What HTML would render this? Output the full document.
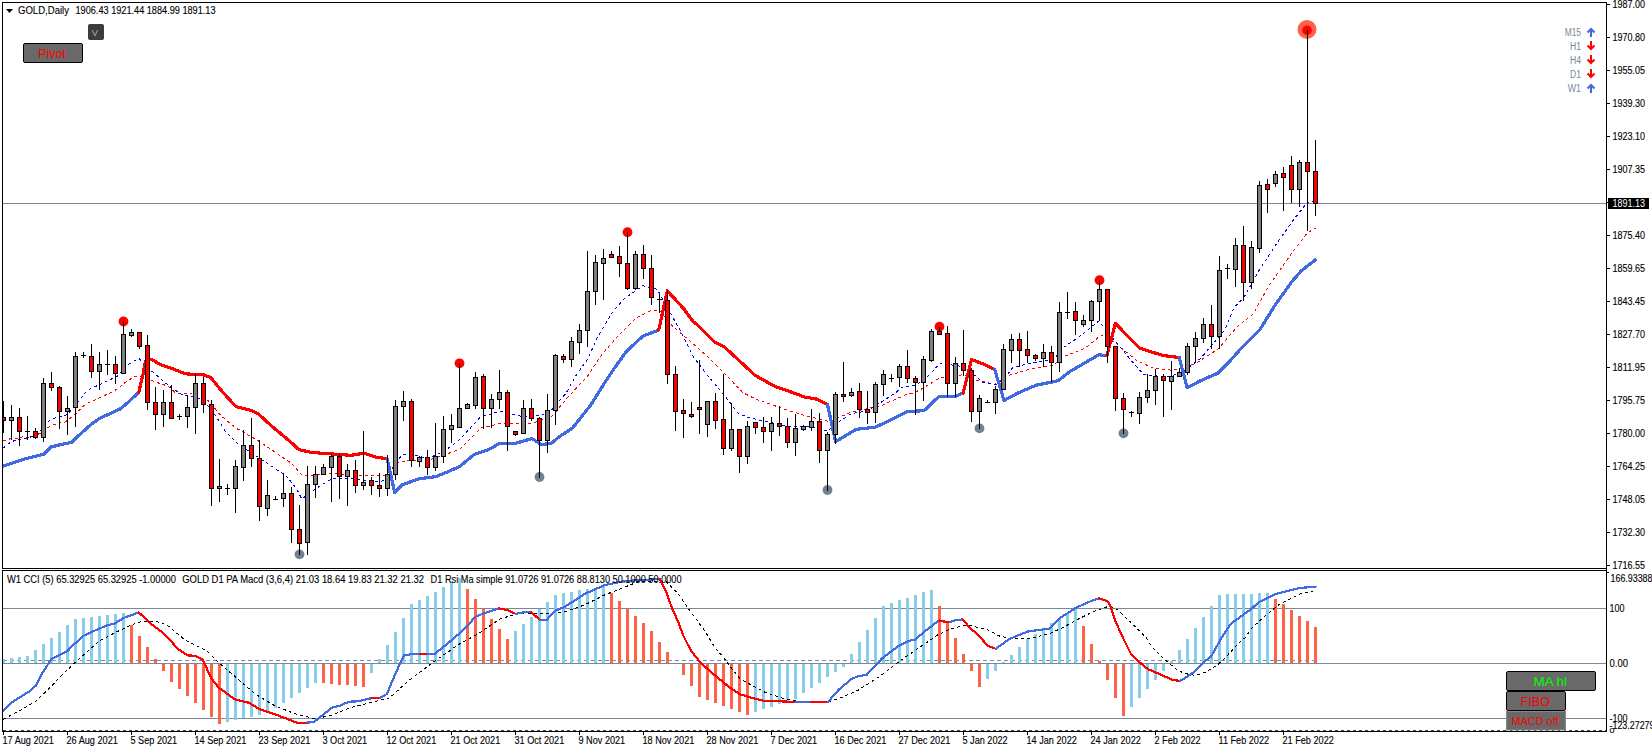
<!DOCTYPE html>
<html><head><meta charset="utf-8"><title>GOLD,Daily</title>
<style>html,body{margin:0;padding:0;background:#fff;width:1652px;height:752px;overflow:hidden}svg{display:block}</style>
</head><body>
<svg width="1652" height="752" viewBox="0 0 1652 752">
<rect x="0" y="0" width="1652" height="752" fill="#ffffff"/>
<rect x="3" y="203" width="1603" height="1" fill="#778899"/>
<rect x="3" y="608" width="1603" height="1" fill="#778899"/>
<rect x="3" y="663" width="1603" height="1" fill="#778899"/>
<rect x="3" y="718" width="1603" height="1" fill="#778899"/>
<line x1="3" y1="660.5" x2="1316" y2="660.5" stroke="#778899" stroke-width="1" stroke-dasharray="4,3"/>
<line x1="3" y1="730.5" x2="1606" y2="730.5" stroke="#2f4f4f" stroke-width="1" stroke-dasharray="3,3" shape-rendering="crispEdges"/>
<rect x="2" y="659" width="3" height="4" fill="#87ceeb"/>
<rect x="10" y="658" width="3" height="5" fill="#87ceeb"/>
<rect x="18" y="657" width="3" height="6" fill="#87ceeb"/>
<rect x="26" y="656" width="3" height="7" fill="#87ceeb"/>
<rect x="34" y="650" width="3" height="13" fill="#87ceeb"/>
<rect x="42" y="644" width="3" height="19" fill="#87ceeb"/>
<rect x="50" y="638" width="3" height="25" fill="#87ceeb"/>
<rect x="58" y="632" width="3" height="31" fill="#87ceeb"/>
<rect x="66" y="625" width="3" height="38" fill="#87ceeb"/>
<rect x="74" y="619" width="3" height="44" fill="#87ceeb"/>
<rect x="82" y="618" width="3" height="45" fill="#87ceeb"/>
<rect x="90" y="617" width="3" height="46" fill="#87ceeb"/>
<rect x="98" y="616" width="3" height="47" fill="#87ceeb"/>
<rect x="106" y="615" width="3" height="48" fill="#87ceeb"/>
<rect x="114" y="614" width="3" height="49" fill="#87ceeb"/>
<rect x="122" y="613" width="3" height="50" fill="#87ceeb"/>
<rect x="130" y="625" width="3" height="38" fill="#ff6347"/>
<rect x="138" y="636" width="3" height="27" fill="#ff6347"/>
<rect x="146" y="647" width="3" height="16" fill="#ff6347"/>
<rect x="154" y="659" width="3" height="4" fill="#ff6347"/>
<rect x="162" y="664" width="3" height="7" fill="#ff6347"/>
<rect x="170" y="664" width="3" height="18" fill="#ff6347"/>
<rect x="178" y="664" width="3" height="25" fill="#ff6347"/>
<rect x="186" y="664" width="3" height="32" fill="#ff6347"/>
<rect x="194" y="664" width="3" height="39" fill="#ff6347"/>
<rect x="202" y="664" width="3" height="46" fill="#ff6347"/>
<rect x="210" y="664" width="3" height="53" fill="#ff6347"/>
<rect x="218" y="664" width="3" height="60" fill="#ff6347"/>
<rect x="226" y="664" width="3" height="58" fill="#87ceeb"/>
<rect x="234" y="664" width="3" height="56" fill="#87ceeb"/>
<rect x="242" y="664" width="3" height="54" fill="#87ceeb"/>
<rect x="250" y="664" width="3" height="53" fill="#87ceeb"/>
<rect x="258" y="664" width="3" height="51" fill="#87ceeb"/>
<rect x="266" y="664" width="3" height="48" fill="#87ceeb"/>
<rect x="274" y="664" width="3" height="44" fill="#87ceeb"/>
<rect x="282" y="664" width="3" height="39" fill="#87ceeb"/>
<rect x="290" y="664" width="3" height="34" fill="#87ceeb"/>
<rect x="298" y="664" width="3" height="29" fill="#87ceeb"/>
<rect x="306" y="664" width="3" height="24" fill="#87ceeb"/>
<rect x="314" y="664" width="3" height="19" fill="#87ceeb"/>
<rect x="322" y="664" width="3" height="19" fill="#ff6347"/>
<rect x="330" y="664" width="3" height="20" fill="#ff6347"/>
<rect x="338" y="664" width="3" height="21" fill="#ff6347"/>
<rect x="346" y="664" width="3" height="21" fill="#ff6347"/>
<rect x="354" y="664" width="3" height="22" fill="#ff6347"/>
<rect x="362" y="664" width="3" height="23" fill="#ff6347"/>
<rect x="370" y="664" width="3" height="9" fill="#87ceeb"/>
<rect x="378" y="659" width="3" height="4" fill="#87ceeb"/>
<rect x="386" y="645" width="3" height="18" fill="#87ceeb"/>
<rect x="394" y="632" width="3" height="31" fill="#87ceeb"/>
<rect x="402" y="618" width="3" height="45" fill="#87ceeb"/>
<rect x="410" y="604" width="3" height="59" fill="#87ceeb"/>
<rect x="418" y="600" width="3" height="63" fill="#87ceeb"/>
<rect x="426" y="596" width="3" height="67" fill="#87ceeb"/>
<rect x="434" y="592" width="3" height="71" fill="#87ceeb"/>
<rect x="442" y="587" width="3" height="76" fill="#87ceeb"/>
<rect x="450" y="582" width="3" height="81" fill="#87ceeb"/>
<rect x="458" y="578" width="3" height="85" fill="#87ceeb"/>
<rect x="466" y="589" width="3" height="74" fill="#ff6347"/>
<rect x="474" y="599" width="3" height="64" fill="#ff6347"/>
<rect x="482" y="609" width="3" height="54" fill="#ff6347"/>
<rect x="490" y="619" width="3" height="44" fill="#ff6347"/>
<rect x="498" y="629" width="3" height="34" fill="#ff6347"/>
<rect x="506" y="639" width="3" height="24" fill="#ff6347"/>
<rect x="514" y="631" width="3" height="32" fill="#87ceeb"/>
<rect x="522" y="624" width="3" height="39" fill="#87ceeb"/>
<rect x="530" y="617" width="3" height="46" fill="#87ceeb"/>
<rect x="538" y="609" width="3" height="54" fill="#87ceeb"/>
<rect x="546" y="602" width="3" height="61" fill="#87ceeb"/>
<rect x="554" y="595" width="3" height="68" fill="#87ceeb"/>
<rect x="562" y="593" width="3" height="70" fill="#87ceeb"/>
<rect x="570" y="592" width="3" height="71" fill="#87ceeb"/>
<rect x="578" y="590" width="3" height="73" fill="#87ceeb"/>
<rect x="586" y="589" width="3" height="74" fill="#87ceeb"/>
<rect x="594" y="588" width="3" height="75" fill="#87ceeb"/>
<rect x="602" y="586" width="3" height="77" fill="#87ceeb"/>
<rect x="610" y="593" width="3" height="70" fill="#ff6347"/>
<rect x="618" y="601" width="3" height="62" fill="#ff6347"/>
<rect x="626" y="609" width="3" height="54" fill="#ff6347"/>
<rect x="634" y="616" width="3" height="47" fill="#ff6347"/>
<rect x="642" y="623" width="3" height="40" fill="#ff6347"/>
<rect x="650" y="631" width="3" height="32" fill="#ff6347"/>
<rect x="658" y="642" width="3" height="21" fill="#ff6347"/>
<rect x="666" y="652" width="3" height="11" fill="#ff6347"/>
<rect x="682" y="664" width="3" height="11" fill="#ff6347"/>
<rect x="690" y="664" width="3" height="22" fill="#ff6347"/>
<rect x="698" y="664" width="3" height="33" fill="#ff6347"/>
<rect x="706" y="664" width="3" height="36" fill="#ff6347"/>
<rect x="714" y="664" width="3" height="39" fill="#ff6347"/>
<rect x="722" y="664" width="3" height="42" fill="#ff6347"/>
<rect x="730" y="664" width="3" height="45" fill="#ff6347"/>
<rect x="738" y="664" width="3" height="48" fill="#ff6347"/>
<rect x="746" y="664" width="3" height="51" fill="#ff6347"/>
<rect x="754" y="664" width="3" height="48" fill="#87ceeb"/>
<rect x="762" y="664" width="3" height="45" fill="#87ceeb"/>
<rect x="770" y="664" width="3" height="43" fill="#87ceeb"/>
<rect x="778" y="664" width="3" height="40" fill="#87ceeb"/>
<rect x="786" y="664" width="3" height="37" fill="#87ceeb"/>
<rect x="794" y="664" width="3" height="35" fill="#87ceeb"/>
<rect x="802" y="664" width="3" height="29" fill="#87ceeb"/>
<rect x="810" y="664" width="3" height="24" fill="#87ceeb"/>
<rect x="818" y="664" width="3" height="19" fill="#87ceeb"/>
<rect x="826" y="664" width="3" height="13" fill="#87ceeb"/>
<rect x="834" y="664" width="3" height="8" fill="#87ceeb"/>
<rect x="842" y="664" width="3" height="3" fill="#87ceeb"/>
<rect x="850" y="654" width="3" height="9" fill="#87ceeb"/>
<rect x="858" y="642" width="3" height="21" fill="#87ceeb"/>
<rect x="866" y="630" width="3" height="33" fill="#87ceeb"/>
<rect x="874" y="618" width="3" height="45" fill="#87ceeb"/>
<rect x="882" y="606" width="3" height="57" fill="#87ceeb"/>
<rect x="890" y="603" width="3" height="60" fill="#87ceeb"/>
<rect x="898" y="600" width="3" height="63" fill="#87ceeb"/>
<rect x="906" y="598" width="3" height="65" fill="#87ceeb"/>
<rect x="914" y="595" width="3" height="68" fill="#87ceeb"/>
<rect x="922" y="592" width="3" height="71" fill="#87ceeb"/>
<rect x="930" y="590" width="3" height="73" fill="#87ceeb"/>
<rect x="938" y="606" width="3" height="57" fill="#ff6347"/>
<rect x="946" y="622" width="3" height="41" fill="#ff6347"/>
<rect x="954" y="638" width="3" height="25" fill="#ff6347"/>
<rect x="962" y="654" width="3" height="9" fill="#ff6347"/>
<rect x="970" y="664" width="3" height="7" fill="#ff6347"/>
<rect x="978" y="664" width="3" height="23" fill="#ff6347"/>
<rect x="986" y="664" width="3" height="15" fill="#87ceeb"/>
<rect x="994" y="664" width="3" height="7" fill="#87ceeb"/>
<rect x="1002" y="662" width="3" height="1" fill="#87ceeb"/>
<rect x="1010" y="655" width="3" height="8" fill="#87ceeb"/>
<rect x="1018" y="647" width="3" height="16" fill="#87ceeb"/>
<rect x="1026" y="639" width="3" height="24" fill="#87ceeb"/>
<rect x="1034" y="634" width="3" height="29" fill="#87ceeb"/>
<rect x="1042" y="630" width="3" height="33" fill="#87ceeb"/>
<rect x="1050" y="623" width="3" height="40" fill="#87ceeb"/>
<rect x="1058" y="618" width="3" height="45" fill="#87ceeb"/>
<rect x="1066" y="613" width="3" height="50" fill="#87ceeb"/>
<rect x="1074" y="609" width="3" height="54" fill="#87ceeb"/>
<rect x="1082" y="626" width="3" height="37" fill="#ff6347"/>
<rect x="1090" y="644" width="3" height="19" fill="#ff6347"/>
<rect x="1098" y="661" width="3" height="2" fill="#ff6347"/>
<rect x="1106" y="664" width="3" height="16" fill="#ff6347"/>
<rect x="1114" y="664" width="3" height="34" fill="#ff6347"/>
<rect x="1122" y="664" width="3" height="52" fill="#ff6347"/>
<rect x="1130" y="664" width="3" height="43" fill="#87ceeb"/>
<rect x="1138" y="664" width="3" height="34" fill="#87ceeb"/>
<rect x="1146" y="664" width="3" height="25" fill="#87ceeb"/>
<rect x="1154" y="664" width="3" height="16" fill="#87ceeb"/>
<rect x="1162" y="664" width="3" height="7" fill="#87ceeb"/>
<rect x="1170" y="661" width="3" height="2" fill="#87ceeb"/>
<rect x="1178" y="650" width="3" height="13" fill="#87ceeb"/>
<rect x="1186" y="639" width="3" height="24" fill="#87ceeb"/>
<rect x="1194" y="628" width="3" height="35" fill="#87ceeb"/>
<rect x="1202" y="617" width="3" height="46" fill="#87ceeb"/>
<rect x="1210" y="606" width="3" height="57" fill="#87ceeb"/>
<rect x="1218" y="595" width="3" height="68" fill="#87ceeb"/>
<rect x="1226" y="594" width="3" height="69" fill="#87ceeb"/>
<rect x="1234" y="594" width="3" height="69" fill="#87ceeb"/>
<rect x="1242" y="594" width="3" height="69" fill="#87ceeb"/>
<rect x="1250" y="594" width="3" height="69" fill="#87ceeb"/>
<rect x="1258" y="593" width="3" height="70" fill="#87ceeb"/>
<rect x="1266" y="593" width="3" height="70" fill="#87ceeb"/>
<rect x="1274" y="599" width="3" height="64" fill="#ff6347"/>
<rect x="1282" y="604" width="3" height="59" fill="#ff6347"/>
<rect x="1290" y="610" width="3" height="53" fill="#ff6347"/>
<rect x="1298" y="616" width="3" height="47" fill="#ff6347"/>
<rect x="1306" y="621" width="3" height="42" fill="#ff6347"/>
<rect x="1314" y="627" width="3" height="36" fill="#ff6347"/>
<polyline points="3.3,719.3 19.8,710.5 35.1,701.7 39.6,697.5 46.0,691.5 52.3,685.5 57.5,679.5 63.1,673.9 69.1,668.3 75.5,662.0 81.0,657.2 87.5,651.6 98.8,641.3 115.2,632.6 131.7,624.9 142.7,620.9 158.0,621.9 167.0,624.9 184.9,639.9 206.9,650.8 218.8,662.8 238.8,679.8 254.8,693.7 274.7,705.7 294.7,713.7 315.0,718.7 330.0,715.7 349.9,707.7 369.9,702.7 389.8,697.7 409.7,679.8 433.7,661.8 449.7,650.8 458.7,644.4 477.6,634.2 490.2,625.5 499.6,619.2 516.9,613.7 524.9,612.9 544.8,613.9 564.8,611.9 584.7,604.9 604.7,594.9 625.0,587.0 640.0,581.0 666.0,581.6 678.8,594.4 688.3,608.7 697.9,621.5 705.9,632.7 715.5,648.7 721.5,655.0 731.1,667.5 739.5,678.3 747.9,683.1 765.8,692.7 783.8,698.6 795.7,701.0 827.9,702.0 838.8,698.6 849.6,693.9 858.0,690.3 880.7,675.7 898.7,661.8 914.7,650.8 937.7,634.9 950.0,629.0 961.1,626.1 969.9,625.4 987.4,629.7 1000.0,636.3 1011.7,638.5 1029.2,638.5 1048.2,634.1 1062.9,627.6 1076.0,620.2 1093.6,611.5 1108.2,606.4 1117.0,609.3 1131.6,623.2 1146.2,637.8 1151.2,646.4 1158.8,653.6 1164.4,659.2 1170.7,664.7 1176.7,669.5 1182.7,672.6 1189.1,674.5 1195.1,675.3 1200.3,674.3 1205.9,671.9 1212.3,668.3 1218.6,664.0 1224.2,658.8 1230.6,652.0 1236.2,646.0 1241.0,640.8 1245.0,637.8 1252.0,627.9 1264.0,616.9 1279.9,603.9 1299.9,593.9 1315.8,590.4" fill="none" stroke="#000" stroke-width="1" stroke-dasharray="3,3" shape-rendering="crispEdges"/>
<polyline points="3.3,710.5 11.0,702.8 19.8,697.3 30.0,691.0 35.6,685.9 38.0,681.5 42.0,673.5 45.2,668.7 49.2,662.3 51.5,658.8 56.3,656.8 64.3,652.8 67.5,651.2 72.3,645.6 78.7,640.4 83.4,635.8 98.8,628.8 107.5,625.3 115.2,623.3 122.9,618.3 138.7,612.4" fill="none" stroke="#4169e1" stroke-width="2.2" stroke-linejoin="round" stroke-linecap="round" shape-rendering="crispEdges"/>
<polyline points="138.7,612.4 153.6,626.0 163.0,632.9 179.0,649.8 187.9,655.4 194.9,655.8 202.9,659.8 210.9,677.8 218.8,687.7 234.8,699.3 248.8,702.7 260.7,709.7 274.7,714.1 296.6,722.6 307.6,722.6" fill="none" stroke="#ff0000" stroke-width="2.2" stroke-linejoin="round" stroke-linecap="round" shape-rendering="crispEdges"/>
<polyline points="307.6,722.6 314.0,722.0 322.0,715.7 332.0,707.7 340.0,705.7 348.9,701.7 357.9,701.3 371.8,698.1" fill="none" stroke="#4169e1" stroke-width="2.2" stroke-linejoin="round" stroke-linecap="round" shape-rendering="crispEdges"/>
<polyline points="371.8,698.1 379.8,697.7" fill="none" stroke="#ff0000" stroke-width="2.2" stroke-linejoin="round" stroke-linecap="round" shape-rendering="crispEdges"/>
<polyline points="379.8,697.7 386.8,694.1 395.8,672.8 403.8,655.4 411.7,654.2 419.7,653.8" fill="none" stroke="#4169e1" stroke-width="2.2" stroke-linejoin="round" stroke-linecap="round" shape-rendering="crispEdges"/>
<polyline points="419.7,653.8 427.7,653.8" fill="none" stroke="#ff0000" stroke-width="2.2" stroke-linejoin="round" stroke-linecap="round" shape-rendering="crispEdges"/>
<polyline points="427.7,653.8 434.7,653.8 449.7,641.8 461.6,631.5 470.0,622.9 475.0,616.9 485.0,612.9 498.9,608.5" fill="none" stroke="#4169e1" stroke-width="2.2" stroke-linejoin="round" stroke-linecap="round" shape-rendering="crispEdges"/>
<polyline points="498.9,608.5 506.9,609.9 515.9,613.9" fill="none" stroke="#ff0000" stroke-width="2.2" stroke-linejoin="round" stroke-linecap="round" shape-rendering="crispEdges"/>
<polyline points="515.9,613.9 524.9,611.9 530.8,611.9" fill="none" stroke="#4169e1" stroke-width="2.2" stroke-linejoin="round" stroke-linecap="round" shape-rendering="crispEdges"/>
<polyline points="530.8,611.9 539.8,619.9" fill="none" stroke="#ff0000" stroke-width="2.2" stroke-linejoin="round" stroke-linecap="round" shape-rendering="crispEdges"/>
<polyline points="539.8,619.9 546.8,619.9 554.8,610.9 564.8,606.9 584.7,593.9 604.7,585.0 625.0,581.0 659.9,579.0" fill="none" stroke="#4169e1" stroke-width="2.2" stroke-linejoin="round" stroke-linecap="round" shape-rendering="crispEdges"/>
<polyline points="659.9,579.0 666.0,591.2 671.6,607.1 678.0,621.5 683.5,636.0 690.7,650.3 699.5,661.5 710.7,671.8 720.3,679.8 730.0,687.8 739.7,694.1 749.7,697.3 763.6,700.7 780.0,701.3 796.0,702.0" fill="none" stroke="#ff0000" stroke-width="2.2" stroke-linejoin="round" stroke-linecap="round" shape-rendering="crispEdges"/>
<polyline points="796.0,702.0 811.0,702.0" fill="none" stroke="#4169e1" stroke-width="2.2" stroke-linejoin="round" stroke-linecap="round" shape-rendering="crispEdges"/>
<polyline points="811.0,702.0 827.9,702.0" fill="none" stroke="#ff0000" stroke-width="2.2" stroke-linejoin="round" stroke-linecap="round" shape-rendering="crispEdges"/>
<polyline points="827.9,702.0 838.8,689.7 851.8,678.7 858.8,676.1 866.8,674.7 882.7,657.8 898.7,645.8 908.7,640.8 914.7,639.8 926.6,629.9 935.0,623.5 939.0,620.5" fill="none" stroke="#4169e1" stroke-width="2.2" stroke-linejoin="round" stroke-linecap="round" shape-rendering="crispEdges"/>
<polyline points="939.0,620.5 946.0,621.9 950.0,622.0" fill="none" stroke="#ff0000" stroke-width="2.2" stroke-linejoin="round" stroke-linecap="round" shape-rendering="crispEdges"/>
<polyline points="950.0,622.0 955.9,619.9 962.9,619.5" fill="none" stroke="#4169e1" stroke-width="2.2" stroke-linejoin="round" stroke-linecap="round" shape-rendering="crispEdges"/>
<polyline points="962.9,619.5 969.9,627.9 977.9,634.8 987.9,645.8 995.8,648.8" fill="none" stroke="#ff0000" stroke-width="2.2" stroke-linejoin="round" stroke-linecap="round" shape-rendering="crispEdges"/>
<polyline points="995.8,648.8 1009.8,638.8 1027.8,631.5 1049.7,628.5 1059.7,618.3 1075.6,607.9 1090.0,601.5 1099.0,598.3" fill="none" stroke="#4169e1" stroke-width="2.2" stroke-linejoin="round" stroke-linecap="round" shape-rendering="crispEdges"/>
<polyline points="1099.0,598.3 1107.0,600.9 1110.0,604.9 1114.9,619.9 1122.9,637.8 1130.9,653.8 1138.9,661.8 1148.8,669.8 1150.0,670.0 1156.4,672.7 1163.6,675.9 1172.3,679.9 1179.9,680.9" fill="none" stroke="#ff0000" stroke-width="2.2" stroke-linejoin="round" stroke-linecap="round" shape-rendering="crispEdges"/>
<polyline points="1179.9,680.9 1185.9,677.5 1193.1,672.7 1197.9,668.3 1204.3,661.5 1210.7,656.8 1213.8,652.0 1220.2,640.0 1230.6,623.9 1245.0,613.5 1250.0,609.9 1260.0,601.5 1275.9,593.9 1299.9,588.0 1315.8,586.6" fill="none" stroke="#4169e1" stroke-width="2.2" stroke-linejoin="round" stroke-linecap="round" shape-rendering="crispEdges"/>
<polyline points="3.0,441.1 10.4,438.7 16.7,438.7 23.1,436.5 28.7,437.5 39.9,433.5 47.0,427.9 52.6,425.1 58.2,423.1 64.6,422.3 70.2,418.3 76.6,412.8 85.6,404.2 93.9,400.6 101.1,397.0 111.9,392.2 117.8,388.6 125.0,382.6 133.4,377.2 138.2,375.5 153.7,381.4 160.9,383.8 168.1,386.2 175.3,392.8 191.7,394.0 208.0,400.3 220.8,415.5 236.0,428.1 256.2,439.5 271.3,449.6 291.6,463.5 301.7,474.9 310.0,476.0 332.0,473.4 353.2,475.5 385.0,475.5 397.9,462.8 406.4,460.6 427.7,460.6 449.0,453.2 460.0,449.0 480.6,428.1 500.5,423.5 532.6,423.0 551.0,417.4 566.2,399.1 587.9,375.6 602.2,354.0 619.0,334.9 635.7,318.1 650.1,311.0 659.7,310.5 671.6,325.3 688.4,339.7 707.5,356.4 726.7,375.6 743.0,392.8 755.7,399.1 771.7,404.7 787.7,410.3 803.6,415.1 819.6,419.1 829.1,421.5 838.7,417.5 851.5,411.9 867.4,408.7 883.4,405.0 888.5,402.3 905.5,394.9 914.0,392.8 922.6,388.5 939.6,377.9 963.0,374.7 975.7,380.0 994.9,384.3 1007.7,375.7 1028.9,369.4 1053.8,364.9 1062.8,357.0 1085.4,348.0 1101.2,335.1 1115.0,342.3 1121.0,347.9 1137.0,360.7 1152.9,367.9 1172.0,370.3 1184.8,367.9 1197.5,362.3 1218.0,349.0 1237.2,326.8 1253.2,314.0 1269.2,285.3 1291.5,253.4 1307.5,232.7 1316.0,227.9" fill="none" stroke="#ff0000" stroke-width="1" stroke-dasharray="3,3" shape-rendering="crispEdges"/>
<polyline points="3.0,448.2 10.4,442.3 16.0,439.9 22.3,438.7 28.3,438.3 39.0,432.3 49.4,420.3 55.8,417.5 62.2,416.3 67.8,414.4 72.6,408.0 80.8,398.2 87.9,389.8 98.7,385.0 105.9,381.4 116.7,376.7 125.0,367.1 133.4,361.1 139.4,358.7 144.2,364.1 151.3,370.7 160.9,379.0 169.3,386.2 182.9,395.3 198.0,397.8 210.7,407.9 225.8,431.9 238.5,444.6 256.2,456.0 271.3,466.0 286.5,476.2 296.6,488.8 301.7,498.9 321.3,485.1 332.0,478.7 353.2,478.7 380.9,482.0 387.2,477.7 402.0,454.3 414.9,455.3 427.7,458.5 444.7,451.0 460.0,439.4 480.6,416.8 500.5,411.3 523.4,416.8 547.9,414.4 566.2,393.0 575.9,375.6 587.9,358.8 597.4,337.3 611.8,313.3 623.8,299.0 642.9,285.8 657.3,289.4 669.2,311.0 681.2,332.5 693.2,356.4 707.5,375.6 721.9,392.3 728.6,400.7 738.2,413.5 746.2,416.7 762.1,420.7 787.7,426.3 811.6,427.1 827.5,431.1 837.1,423.1 851.5,413.5 867.4,411.1 883.4,400.7 895.0,393.2 901.7,387.4 915.7,385.6 929.7,374.4 939.9,363.3 959.4,366.0 972.4,373.5 983.6,382.8 996.6,384.7 1005.0,378.1 1013.0,367.2 1028.9,363.8 1053.8,359.3 1062.8,348.0 1080.9,335.5 1099.0,320.8 1110.3,335.5 1121.0,347.9 1132.1,361.5 1143.3,374.3 1152.9,375.8 1168.8,376.6 1181.6,372.7 1200.7,358.3 1225.0,329.6 1234.0,307.7 1243.6,298.1 1259.6,269.4 1278.7,240.6 1294.7,218.3 1307.5,202.3 1316.0,200.7" fill="none" stroke="#0000ff" stroke-width="1" stroke-dasharray="3,3" shape-rendering="crispEdges"/>
<polyline points="2.0,466.5 23.1,459.4 43.9,454.2 51.0,447.0 59.0,445.0 71.8,442.3 80.0,434.3 91.0,424.5 98.7,419.1 105.9,415.5 120.2,408.9 127.4,403.0 138.8,392.2" fill="none" stroke="#4169e1" stroke-width="3.2" stroke-linejoin="round" stroke-linecap="round" shape-rendering="crispEdges"/>
<polyline points="138.8,392.2 143.0,374.3 145.4,361.1 151.3,359.3 160.9,364.7 170.0,367.7 185.4,373.8 204.3,375.0 210.7,377.6 223.3,392.8 236.0,406.7 251.0,410.4 258.7,414.2 273.9,428.1 287.8,439.5 299.0,449.6 310.0,452.2 321.3,453.2 351.0,455.3 363.8,453.2 376.6,457.4 387.2,458.5" fill="none" stroke="#ff0000" stroke-width="3.2" stroke-linejoin="round" stroke-linecap="round" shape-rendering="crispEdges"/>
<polyline points="387.2,458.5 394.7,492.6 402.0,485.0 419.0,478.7 436.0,476.6 449.0,471.3 460.0,466.2 474.6,454.2 489.0,449.4 499.7,443.4 515.2,443.4 532.0,438.6 541.6,444.6 551.1,443.4 560.0,436.2 572.4,428.1 590.7,405.2 604.6,382.8 614.2,368.4 626.2,351.6 642.9,336.1 658.7,330.1" fill="none" stroke="#4169e1" stroke-width="3.2" stroke-linejoin="round" stroke-linecap="round" shape-rendering="crispEdges"/>
<polyline points="658.7,330.1 667.4,290.8 683.6,308.6 693.2,321.7 698.0,325.3 714.7,342.1 724.3,346.9 755.4,375.6 774.9,386.4 795.6,393.6 803.6,396.8 816.4,399.1 827.5,404.7" fill="none" stroke="#ff0000" stroke-width="3.2" stroke-linejoin="round" stroke-linecap="round" shape-rendering="crispEdges"/>
<polyline points="827.5,404.7 835.6,441.7 855.9,429.4 875.0,427.2 885.0,422.8 907.3,411.6 924.0,410.7 939.0,396.4 955.7,396.4 963.1,393.0" fill="none" stroke="#4169e1" stroke-width="3.2" stroke-linejoin="round" stroke-linecap="round" shape-rendering="crispEdges"/>
<polyline points="963.1,393.0 971.5,359.5 983.6,364.2 994.8,369.8" fill="none" stroke="#ff0000" stroke-width="3.2" stroke-linejoin="round" stroke-linecap="round" shape-rendering="crispEdges"/>
<polyline points="994.8,369.8 1004.0,400.5 1017.6,393.2 1035.7,385.3 1058.3,380.7 1069.6,371.7 1099.0,354.7 1106.9,355.9" fill="none" stroke="#4169e1" stroke-width="3.2" stroke-linejoin="round" stroke-linecap="round" shape-rendering="crispEdges"/>
<polyline points="1106.9,355.9 1115.4,323.2 1128.9,337.6 1139.3,347.9 1162.4,355.4 1179.2,357.5" fill="none" stroke="#ff0000" stroke-width="3.2" stroke-linejoin="round" stroke-linecap="round" shape-rendering="crispEdges"/>
<polyline points="1179.2,357.5 1187.2,387.8 1200.7,380.6 1218.1,373.1 1227.7,363.5 1240.4,349.2 1259.6,330.0 1275.5,304.5 1291.5,282.1 1301.1,271.0 1315.4,259.8" fill="none" stroke="#4169e1" stroke-width="3.2" stroke-linejoin="round" stroke-linecap="round" shape-rendering="crispEdges"/>
<circle cx="123.5" cy="321.5" r="4.9" fill="#ff0000"/>
<circle cx="459.5" cy="363.3" r="4.9" fill="#ff0000"/>
<circle cx="627.5" cy="232.2" r="4.9" fill="#ff0000"/>
<circle cx="939.5" cy="326.6" r="4.9" fill="#ff0000"/>
<circle cx="1099.5" cy="280.2" r="4.9" fill="#ff0000"/>
<circle cx="299.5" cy="554.4" r="4.9" fill="#708090"/>
<circle cx="539.5" cy="477" r="4.9" fill="#708090"/>
<circle cx="827.5" cy="490" r="4.9" fill="#708090"/>
<circle cx="979.5" cy="428.4" r="4.9" fill="#708090"/>
<circle cx="1123.5" cy="433.3" r="4.9" fill="#708090"/>
<circle cx="1307" cy="29.4" r="9.5" fill="#ff6347"/>
<circle cx="1307" cy="30.4" r="4.8" fill="#ff0000"/>
<g fill="#000"><rect x="3" y="401" width="1" height="32"/><rect x="1" y="417" width="5" height="4"/><rect x="11" y="405" width="1" height="35"/><rect x="9" y="417" width="5" height="4"/><rect x="19" y="408" width="1" height="38"/><rect x="17" y="417" width="5" height="15"/><rect x="27" y="416" width="1" height="24"/><rect x="25" y="431" width="5" height="1"/><rect x="35" y="428" width="1" height="11"/><rect x="33" y="431" width="5" height="7"/><rect x="43" y="378" width="1" height="64"/><rect x="41" y="383" width="5" height="55"/><rect x="51" y="372" width="1" height="19"/><rect x="49" y="383" width="5" height="5"/><rect x="59" y="386" width="1" height="43"/><rect x="57" y="387" width="5" height="25"/><rect x="67" y="396" width="1" height="39"/><rect x="65" y="408" width="5" height="4"/><rect x="75" y="352" width="1" height="75"/><rect x="73" y="356" width="5" height="52"/><rect x="83" y="352" width="1" height="6"/><rect x="81" y="355" width="5" height="1"/><rect x="91" y="344" width="1" height="34"/><rect x="89" y="356" width="5" height="16"/><rect x="99" y="352" width="1" height="38"/><rect x="97" y="364" width="5" height="8"/><rect x="107" y="350" width="1" height="25"/><rect x="105" y="364" width="5" height="1"/><rect x="115" y="356" width="1" height="28"/><rect x="113" y="364" width="5" height="10"/><rect x="123" y="321" width="1" height="53"/><rect x="121" y="334" width="5" height="40"/><rect x="131" y="329" width="1" height="8"/><rect x="129" y="332" width="5" height="4"/><rect x="139" y="332" width="1" height="17"/><rect x="137" y="332" width="5" height="15"/><rect x="147" y="335" width="1" height="75"/><rect x="145" y="345" width="5" height="58"/><rect x="155" y="387" width="1" height="43"/><rect x="153" y="402" width="5" height="13"/><rect x="163" y="390" width="1" height="37"/><rect x="161" y="402" width="5" height="13"/><rect x="171" y="385" width="1" height="34"/><rect x="169" y="402" width="5" height="17"/><rect x="179" y="414" width="1" height="6"/><rect x="177" y="416" width="5" height="1"/><rect x="187" y="395" width="1" height="33"/><rect x="185" y="407" width="5" height="10"/><rect x="195" y="374" width="1" height="60"/><rect x="193" y="383" width="5" height="25"/><rect x="203" y="377" width="1" height="36"/><rect x="201" y="383" width="5" height="22"/><rect x="211" y="400" width="1" height="106"/><rect x="209" y="404" width="5" height="85"/><rect x="219" y="459" width="1" height="43"/><rect x="217" y="486" width="5" height="3"/><rect x="227" y="484" width="1" height="11"/><rect x="225" y="488" width="5" height="1"/><rect x="235" y="460" width="1" height="53"/><rect x="233" y="466" width="5" height="23"/><rect x="243" y="430" width="1" height="51"/><rect x="241" y="445" width="5" height="23"/><rect x="251" y="418" width="1" height="49"/><rect x="249" y="445" width="5" height="14"/><rect x="259" y="440" width="1" height="81"/><rect x="257" y="458" width="5" height="49"/><rect x="267" y="480" width="1" height="36"/><rect x="265" y="495" width="5" height="14"/><rect x="275" y="496" width="1" height="4"/><rect x="273" y="499" width="5" height="1"/><rect x="283" y="473" width="1" height="34"/><rect x="281" y="493" width="5" height="6"/><rect x="291" y="487" width="1" height="56"/><rect x="289" y="493" width="5" height="37"/><rect x="299" y="505" width="1" height="50"/><rect x="297" y="529" width="5" height="15"/><rect x="307" y="466" width="1" height="89"/><rect x="305" y="484" width="5" height="59"/><rect x="315" y="466" width="1" height="32"/><rect x="313" y="474" width="5" height="11"/><rect x="323" y="464" width="1" height="11"/><rect x="321" y="467" width="5" height="8"/><rect x="331" y="454" width="1" height="48"/><rect x="329" y="456" width="5" height="12"/><rect x="339" y="454" width="1" height="45"/><rect x="337" y="456" width="5" height="21"/><rect x="347" y="464" width="1" height="42"/><rect x="345" y="470" width="5" height="7"/><rect x="355" y="460" width="1" height="33"/><rect x="353" y="470" width="5" height="16"/><rect x="363" y="431" width="1" height="59"/><rect x="361" y="482" width="5" height="4"/><rect x="371" y="477" width="1" height="18"/><rect x="369" y="480" width="5" height="6"/><rect x="379" y="473" width="1" height="24"/><rect x="377" y="485" width="5" height="4"/><rect x="387" y="455" width="1" height="41"/><rect x="385" y="474" width="5" height="15"/><rect x="395" y="400" width="1" height="80"/><rect x="393" y="406" width="5" height="69"/><rect x="403" y="391" width="1" height="30"/><rect x="401" y="401" width="5" height="6"/><rect x="411" y="399" width="1" height="68"/><rect x="409" y="401" width="5" height="60"/><rect x="419" y="456" width="1" height="11"/><rect x="417" y="457" width="5" height="5"/><rect x="427" y="450" width="1" height="25"/><rect x="425" y="457" width="5" height="11"/><rect x="435" y="423" width="1" height="48"/><rect x="433" y="456" width="5" height="12"/><rect x="443" y="416" width="1" height="47"/><rect x="441" y="429" width="5" height="28"/><rect x="451" y="414" width="1" height="29"/><rect x="449" y="425" width="5" height="5"/><rect x="459" y="363" width="1" height="65"/><rect x="457" y="408" width="5" height="20"/><rect x="467" y="403" width="1" height="6"/><rect x="465" y="404" width="5" height="5"/><rect x="475" y="372" width="1" height="37"/><rect x="473" y="377" width="5" height="29"/><rect x="483" y="374" width="1" height="55"/><rect x="481" y="376" width="5" height="33"/><rect x="491" y="394" width="1" height="34"/><rect x="489" y="399" width="5" height="10"/><rect x="499" y="370" width="1" height="39"/><rect x="497" y="392" width="5" height="8"/><rect x="507" y="390" width="1" height="61"/><rect x="505" y="392" width="5" height="35"/><rect x="515" y="431" width="1" height="5"/><rect x="513" y="431" width="5" height="4"/><rect x="523" y="400" width="1" height="34"/><rect x="521" y="408" width="5" height="26"/><rect x="531" y="399" width="1" height="22"/><rect x="529" y="408" width="5" height="11"/><rect x="539" y="417" width="1" height="61"/><rect x="537" y="418" width="5" height="23"/><rect x="547" y="394" width="1" height="59"/><rect x="545" y="410" width="5" height="31"/><rect x="555" y="354" width="1" height="71"/><rect x="553" y="355" width="5" height="56"/><rect x="563" y="354" width="1" height="9"/><rect x="561" y="356" width="5" height="4"/><rect x="571" y="337" width="1" height="30"/><rect x="569" y="341" width="5" height="19"/><rect x="579" y="324" width="1" height="30"/><rect x="577" y="330" width="5" height="13"/><rect x="587" y="251" width="1" height="96"/><rect x="585" y="291" width="5" height="40"/><rect x="595" y="255" width="1" height="50"/><rect x="593" y="262" width="5" height="30"/><rect x="603" y="249" width="1" height="51"/><rect x="601" y="258" width="5" height="6"/><rect x="611" y="251" width="1" height="7"/><rect x="609" y="254" width="5" height="4"/><rect x="619" y="246" width="1" height="31"/><rect x="617" y="256" width="5" height="8"/><rect x="627" y="232" width="1" height="58"/><rect x="625" y="263" width="5" height="26"/><rect x="635" y="251" width="1" height="39"/><rect x="633" y="254" width="5" height="35"/><rect x="643" y="245" width="1" height="34"/><rect x="641" y="254" width="5" height="15"/><rect x="651" y="255" width="1" height="50"/><rect x="649" y="268" width="5" height="30"/><rect x="659" y="294" width="1" height="19"/><rect x="657" y="299" width="5" height="1"/><rect x="667" y="291" width="1" height="93"/><rect x="665" y="300" width="5" height="75"/><rect x="675" y="366" width="1" height="65"/><rect x="673" y="374" width="5" height="38"/><rect x="683" y="399" width="1" height="39"/><rect x="681" y="410" width="5" height="4"/><rect x="691" y="402" width="1" height="16"/><rect x="689" y="414" width="5" height="3"/><rect x="699" y="360" width="1" height="74"/><rect x="697" y="407" width="5" height="3"/><rect x="707" y="401" width="1" height="36"/><rect x="705" y="401" width="5" height="24"/><rect x="715" y="393" width="1" height="36"/><rect x="713" y="401" width="5" height="20"/><rect x="723" y="374" width="1" height="81"/><rect x="721" y="419" width="5" height="30"/><rect x="731" y="403" width="1" height="48"/><rect x="729" y="429" width="5" height="20"/><rect x="739" y="429" width="1" height="44"/><rect x="737" y="429" width="5" height="28"/><rect x="747" y="421" width="1" height="43"/><rect x="745" y="426" width="5" height="31"/><rect x="755" y="422" width="1" height="12"/><rect x="753" y="422" width="5" height="6"/><rect x="763" y="417" width="1" height="26"/><rect x="761" y="427" width="5" height="5"/><rect x="771" y="417" width="1" height="34"/><rect x="769" y="423" width="5" height="9"/><rect x="779" y="406" width="1" height="30"/><rect x="777" y="423" width="5" height="4"/><rect x="787" y="418" width="1" height="30"/><rect x="785" y="426" width="5" height="17"/><rect x="795" y="414" width="1" height="42"/><rect x="793" y="428" width="5" height="15"/><rect x="803" y="425" width="1" height="6"/><rect x="801" y="426" width="5" height="4"/><rect x="811" y="409" width="1" height="22"/><rect x="809" y="421" width="5" height="7"/><rect x="819" y="413" width="1" height="50"/><rect x="817" y="421" width="5" height="30"/><rect x="827" y="432" width="1" height="59"/><rect x="825" y="434" width="5" height="17"/><rect x="835" y="392" width="1" height="52"/><rect x="833" y="394" width="5" height="41"/><rect x="843" y="362" width="1" height="40"/><rect x="841" y="394" width="5" height="3"/><rect x="851" y="388" width="1" height="9"/><rect x="849" y="392" width="5" height="4"/><rect x="859" y="383" width="1" height="35"/><rect x="857" y="391" width="5" height="19"/><rect x="867" y="391" width="1" height="33"/><rect x="865" y="409" width="5" height="4"/><rect x="875" y="382" width="1" height="41"/><rect x="873" y="384" width="5" height="29"/><rect x="883" y="370" width="1" height="26"/><rect x="881" y="374" width="5" height="11"/><rect x="891" y="374" width="1" height="8"/><rect x="889" y="378" width="5" height="1"/><rect x="899" y="364" width="1" height="23"/><rect x="897" y="366" width="5" height="12"/><rect x="907" y="350" width="1" height="33"/><rect x="905" y="366" width="5" height="13"/><rect x="915" y="376" width="1" height="39"/><rect x="913" y="378" width="5" height="5"/><rect x="923" y="356" width="1" height="45"/><rect x="921" y="359" width="5" height="24"/><rect x="931" y="329" width="1" height="33"/><rect x="929" y="331" width="5" height="30"/><rect x="939" y="327" width="1" height="8"/><rect x="937" y="331" width="5" height="4"/><rect x="947" y="326" width="1" height="71"/><rect x="945" y="333" width="5" height="51"/><rect x="955" y="357" width="1" height="40"/><rect x="953" y="363" width="5" height="21"/><rect x="963" y="330" width="1" height="46"/><rect x="961" y="363" width="5" height="8"/><rect x="971" y="368" width="1" height="54"/><rect x="969" y="370" width="5" height="42"/><rect x="979" y="395" width="1" height="34"/><rect x="977" y="398" width="5" height="14"/><rect x="987" y="400" width="1" height="3"/><rect x="985" y="402" width="5" height="1"/><rect x="995" y="386" width="1" height="28"/><rect x="993" y="389" width="5" height="14"/><rect x="1003" y="344" width="1" height="46"/><rect x="1001" y="349" width="5" height="41"/><rect x="1011" y="334" width="1" height="29"/><rect x="1009" y="339" width="5" height="12"/><rect x="1019" y="333" width="1" height="34"/><rect x="1017" y="339" width="5" height="12"/><rect x="1027" y="331" width="1" height="32"/><rect x="1025" y="349" width="5" height="7"/><rect x="1035" y="354" width="1" height="7"/><rect x="1033" y="355" width="5" height="4"/><rect x="1043" y="344" width="1" height="23"/><rect x="1041" y="352" width="5" height="7"/><rect x="1051" y="346" width="1" height="36"/><rect x="1049" y="352" width="5" height="11"/><rect x="1059" y="302" width="1" height="70"/><rect x="1057" y="312" width="5" height="51"/><rect x="1067" y="292" width="1" height="27"/><rect x="1065" y="312" width="5" height="1"/><rect x="1075" y="302" width="1" height="33"/><rect x="1073" y="311" width="5" height="10"/><rect x="1083" y="315" width="1" height="12"/><rect x="1081" y="320" width="5" height="5"/><rect x="1091" y="300" width="1" height="32"/><rect x="1089" y="301" width="5" height="20"/><rect x="1099" y="280" width="1" height="41"/><rect x="1097" y="289" width="5" height="13"/><rect x="1107" y="289" width="1" height="74"/><rect x="1105" y="289" width="5" height="58"/><rect x="1115" y="346" width="1" height="65"/><rect x="1113" y="346" width="5" height="53"/><rect x="1123" y="393" width="1" height="41"/><rect x="1121" y="398" width="5" height="12"/><rect x="1131" y="411" width="1" height="6"/><rect x="1129" y="412" width="5" height="1"/><rect x="1139" y="392" width="1" height="32"/><rect x="1137" y="397" width="5" height="17"/><rect x="1147" y="374" width="1" height="29"/><rect x="1145" y="390" width="5" height="8"/><rect x="1155" y="369" width="1" height="36"/><rect x="1153" y="376" width="5" height="15"/><rect x="1163" y="374" width="1" height="43"/><rect x="1161" y="376" width="5" height="5"/><rect x="1171" y="361" width="1" height="49"/><rect x="1169" y="376" width="5" height="6"/><rect x="1179" y="368" width="1" height="9"/><rect x="1177" y="372" width="5" height="5"/><rect x="1187" y="343" width="1" height="32"/><rect x="1185" y="346" width="5" height="27"/><rect x="1195" y="332" width="1" height="30"/><rect x="1193" y="338" width="5" height="9"/><rect x="1203" y="318" width="1" height="25"/><rect x="1201" y="324" width="5" height="15"/><rect x="1211" y="305" width="1" height="44"/><rect x="1209" y="324" width="5" height="13"/><rect x="1219" y="256" width="1" height="93"/><rect x="1217" y="270" width="5" height="67"/><rect x="1227" y="264" width="1" height="15"/><rect x="1225" y="268" width="5" height="1"/><rect x="1235" y="238" width="1" height="49"/><rect x="1233" y="245" width="5" height="25"/><rect x="1243" y="226" width="1" height="75"/><rect x="1241" y="245" width="5" height="38"/><rect x="1251" y="241" width="1" height="48"/><rect x="1249" y="247" width="5" height="36"/><rect x="1259" y="181" width="1" height="72"/><rect x="1257" y="185" width="5" height="64"/><rect x="1267" y="179" width="1" height="34"/><rect x="1265" y="184" width="5" height="6"/><rect x="1275" y="171" width="1" height="16"/><rect x="1273" y="174" width="5" height="10"/><rect x="1283" y="167" width="1" height="44"/><rect x="1281" y="173" width="5" height="5"/><rect x="1291" y="156" width="1" height="47"/><rect x="1289" y="165" width="5" height="25"/><rect x="1299" y="160" width="1" height="47"/><rect x="1297" y="162" width="5" height="28"/><rect x="1307" y="30" width="1" height="201"/><rect x="1305" y="162" width="5" height="10"/><rect x="1315" y="140" width="1" height="76"/><rect x="1313" y="171" width="5" height="33"/></g>
<rect x="2" y="418" width="3" height="2" fill="#ff0000"/><rect x="10" y="418" width="3" height="2" fill="#808080"/><rect x="18" y="418" width="3" height="13" fill="#ff0000"/><rect x="34" y="432" width="3" height="5" fill="#ff0000"/><rect x="42" y="384" width="3" height="53" fill="#808080"/><rect x="50" y="384" width="3" height="3" fill="#ff0000"/><rect x="58" y="388" width="3" height="23" fill="#ff0000"/><rect x="66" y="409" width="3" height="2" fill="#808080"/><rect x="74" y="357" width="3" height="50" fill="#808080"/><rect x="90" y="357" width="3" height="14" fill="#ff0000"/><rect x="98" y="365" width="3" height="6" fill="#808080"/><rect x="114" y="365" width="3" height="8" fill="#ff0000"/><rect x="122" y="335" width="3" height="38" fill="#808080"/><rect x="130" y="333" width="3" height="2" fill="#808080"/><rect x="138" y="333" width="3" height="13" fill="#ff0000"/><rect x="146" y="346" width="3" height="56" fill="#ff0000"/><rect x="154" y="403" width="3" height="11" fill="#ff0000"/><rect x="162" y="403" width="3" height="11" fill="#808080"/><rect x="170" y="403" width="3" height="15" fill="#ff0000"/><rect x="186" y="408" width="3" height="8" fill="#808080"/><rect x="194" y="384" width="3" height="23" fill="#808080"/><rect x="202" y="384" width="3" height="20" fill="#ff0000"/><rect x="210" y="405" width="3" height="83" fill="#ff0000"/><rect x="218" y="487" width="3" height="1" fill="#808080"/><rect x="234" y="467" width="3" height="21" fill="#808080"/><rect x="242" y="446" width="3" height="21" fill="#808080"/><rect x="250" y="446" width="3" height="12" fill="#ff0000"/><rect x="258" y="459" width="3" height="47" fill="#ff0000"/><rect x="266" y="496" width="3" height="12" fill="#808080"/><rect x="282" y="494" width="3" height="4" fill="#808080"/><rect x="290" y="494" width="3" height="35" fill="#ff0000"/><rect x="298" y="530" width="3" height="13" fill="#ff0000"/><rect x="306" y="485" width="3" height="57" fill="#808080"/><rect x="314" y="475" width="3" height="9" fill="#808080"/><rect x="322" y="468" width="3" height="6" fill="#808080"/><rect x="330" y="457" width="3" height="10" fill="#808080"/><rect x="338" y="457" width="3" height="19" fill="#ff0000"/><rect x="346" y="471" width="3" height="5" fill="#808080"/><rect x="354" y="471" width="3" height="14" fill="#ff0000"/><rect x="362" y="483" width="3" height="2" fill="#808080"/><rect x="370" y="481" width="3" height="4" fill="#ff0000"/><rect x="378" y="486" width="3" height="2" fill="#ff0000"/><rect x="386" y="475" width="3" height="13" fill="#808080"/><rect x="394" y="407" width="3" height="67" fill="#808080"/><rect x="402" y="402" width="3" height="4" fill="#808080"/><rect x="410" y="402" width="3" height="58" fill="#ff0000"/><rect x="418" y="458" width="3" height="3" fill="#808080"/><rect x="426" y="458" width="3" height="9" fill="#ff0000"/><rect x="434" y="457" width="3" height="10" fill="#808080"/><rect x="442" y="430" width="3" height="26" fill="#808080"/><rect x="450" y="426" width="3" height="3" fill="#808080"/><rect x="458" y="409" width="3" height="18" fill="#808080"/><rect x="466" y="405" width="3" height="3" fill="#808080"/><rect x="474" y="378" width="3" height="27" fill="#808080"/><rect x="482" y="377" width="3" height="31" fill="#ff0000"/><rect x="490" y="400" width="3" height="8" fill="#808080"/><rect x="498" y="393" width="3" height="6" fill="#808080"/><rect x="506" y="393" width="3" height="33" fill="#ff0000"/><rect x="514" y="432" width="3" height="2" fill="#ff0000"/><rect x="522" y="409" width="3" height="24" fill="#808080"/><rect x="530" y="409" width="3" height="9" fill="#ff0000"/><rect x="538" y="419" width="3" height="21" fill="#ff0000"/><rect x="546" y="411" width="3" height="29" fill="#808080"/><rect x="554" y="356" width="3" height="54" fill="#808080"/><rect x="562" y="357" width="3" height="2" fill="#ff0000"/><rect x="570" y="342" width="3" height="17" fill="#808080"/><rect x="578" y="331" width="3" height="11" fill="#808080"/><rect x="586" y="292" width="3" height="38" fill="#808080"/><rect x="594" y="263" width="3" height="28" fill="#808080"/><rect x="602" y="259" width="3" height="4" fill="#808080"/><rect x="610" y="255" width="3" height="2" fill="#ff0000"/><rect x="618" y="257" width="3" height="6" fill="#ff0000"/><rect x="626" y="264" width="3" height="24" fill="#ff0000"/><rect x="634" y="255" width="3" height="33" fill="#808080"/><rect x="642" y="255" width="3" height="13" fill="#ff0000"/><rect x="650" y="269" width="3" height="28" fill="#ff0000"/><rect x="666" y="301" width="3" height="73" fill="#ff0000"/><rect x="674" y="375" width="3" height="36" fill="#ff0000"/><rect x="682" y="411" width="3" height="2" fill="#ff0000"/><rect x="690" y="415" width="3" height="1" fill="#ff0000"/><rect x="698" y="408" width="3" height="1" fill="#ff0000"/><rect x="706" y="402" width="3" height="22" fill="#808080"/><rect x="714" y="402" width="3" height="18" fill="#ff0000"/><rect x="722" y="420" width="3" height="28" fill="#ff0000"/><rect x="730" y="430" width="3" height="18" fill="#808080"/><rect x="738" y="430" width="3" height="26" fill="#ff0000"/><rect x="746" y="427" width="3" height="29" fill="#808080"/><rect x="754" y="423" width="3" height="4" fill="#ff0000"/><rect x="762" y="428" width="3" height="3" fill="#ff0000"/><rect x="770" y="424" width="3" height="7" fill="#808080"/><rect x="778" y="424" width="3" height="2" fill="#ff0000"/><rect x="786" y="427" width="3" height="15" fill="#ff0000"/><rect x="794" y="429" width="3" height="13" fill="#808080"/><rect x="802" y="427" width="3" height="2" fill="#808080"/><rect x="810" y="422" width="3" height="5" fill="#808080"/><rect x="818" y="422" width="3" height="28" fill="#ff0000"/><rect x="826" y="435" width="3" height="15" fill="#808080"/><rect x="834" y="395" width="3" height="39" fill="#808080"/><rect x="842" y="395" width="3" height="1" fill="#ff0000"/><rect x="850" y="393" width="3" height="2" fill="#808080"/><rect x="858" y="392" width="3" height="17" fill="#ff0000"/><rect x="866" y="410" width="3" height="2" fill="#ff0000"/><rect x="874" y="385" width="3" height="27" fill="#808080"/><rect x="882" y="375" width="3" height="9" fill="#808080"/><rect x="898" y="367" width="3" height="10" fill="#808080"/><rect x="906" y="367" width="3" height="11" fill="#ff0000"/><rect x="914" y="379" width="3" height="3" fill="#ff0000"/><rect x="922" y="360" width="3" height="22" fill="#808080"/><rect x="930" y="332" width="3" height="28" fill="#808080"/><rect x="938" y="332" width="3" height="2" fill="#ff0000"/><rect x="946" y="334" width="3" height="49" fill="#ff0000"/><rect x="954" y="364" width="3" height="19" fill="#808080"/><rect x="962" y="364" width="3" height="6" fill="#ff0000"/><rect x="970" y="371" width="3" height="40" fill="#ff0000"/><rect x="978" y="399" width="3" height="12" fill="#808080"/><rect x="994" y="390" width="3" height="12" fill="#808080"/><rect x="1002" y="350" width="3" height="39" fill="#808080"/><rect x="1010" y="340" width="3" height="10" fill="#808080"/><rect x="1018" y="340" width="3" height="10" fill="#ff0000"/><rect x="1026" y="350" width="3" height="5" fill="#ff0000"/><rect x="1034" y="356" width="3" height="2" fill="#ff0000"/><rect x="1042" y="353" width="3" height="5" fill="#808080"/><rect x="1050" y="353" width="3" height="9" fill="#ff0000"/><rect x="1058" y="313" width="3" height="49" fill="#808080"/><rect x="1074" y="312" width="3" height="8" fill="#ff0000"/><rect x="1082" y="321" width="3" height="3" fill="#808080"/><rect x="1090" y="302" width="3" height="18" fill="#808080"/><rect x="1098" y="290" width="3" height="11" fill="#808080"/><rect x="1106" y="290" width="3" height="56" fill="#ff0000"/><rect x="1114" y="347" width="3" height="51" fill="#ff0000"/><rect x="1122" y="399" width="3" height="10" fill="#ff0000"/><rect x="1138" y="398" width="3" height="15" fill="#808080"/><rect x="1146" y="391" width="3" height="6" fill="#808080"/><rect x="1154" y="377" width="3" height="13" fill="#808080"/><rect x="1162" y="377" width="3" height="3" fill="#ff0000"/><rect x="1170" y="377" width="3" height="4" fill="#808080"/><rect x="1178" y="373" width="3" height="3" fill="#808080"/><rect x="1186" y="347" width="3" height="25" fill="#808080"/><rect x="1194" y="339" width="3" height="7" fill="#808080"/><rect x="1202" y="325" width="3" height="13" fill="#808080"/><rect x="1210" y="325" width="3" height="11" fill="#ff0000"/><rect x="1218" y="271" width="3" height="65" fill="#808080"/><rect x="1234" y="246" width="3" height="23" fill="#808080"/><rect x="1242" y="246" width="3" height="36" fill="#ff0000"/><rect x="1250" y="248" width="3" height="34" fill="#808080"/><rect x="1258" y="186" width="3" height="62" fill="#808080"/><rect x="1266" y="185" width="3" height="4" fill="#ff0000"/><rect x="1274" y="175" width="3" height="8" fill="#808080"/><rect x="1282" y="174" width="3" height="3" fill="#ff0000"/><rect x="1290" y="166" width="3" height="23" fill="#ff0000"/><rect x="1298" y="163" width="3" height="26" fill="#808080"/><rect x="1306" y="163" width="3" height="8" fill="#ff0000"/><rect x="1314" y="172" width="3" height="31" fill="#ff0000"/>
<rect x="0" y="0" width="2" height="752" fill="#fff"/>
<rect x="1607" y="0" width="45" height="752" fill="#fff"/>
<rect x="0" y="569" width="1607" height="1" fill="#fff"/>
<rect x="0" y="732" width="1652" height="20" fill="#fff"/>
<rect x="0" y="0" width="1652" height="2" fill="#fff"/>
<g fill="#000">
<rect x="2" y="2" width="1605" height="1"/>
<rect x="2" y="2" width="1" height="567"/>
<rect x="2" y="568" width="1605" height="1"/>
<rect x="2" y="570" width="1605" height="1"/>
<rect x="2" y="570" width="1" height="162"/>
<rect x="2" y="731" width="1605" height="1"/>
<rect x="1606" y="2" width="1" height="730"/>
</g>
<g fill="#000">
<rect x="1607" y="4" width="3" height="1"/>
<rect x="1607" y="37" width="3" height="1"/>
<rect x="1607" y="70" width="3" height="1"/>
<rect x="1607" y="103" width="3" height="1"/>
<rect x="1607" y="136" width="3" height="1"/>
<rect x="1607" y="169" width="3" height="1"/>
<rect x="1607" y="235" width="3" height="1"/>
<rect x="1607" y="268" width="3" height="1"/>
<rect x="1607" y="301" width="3" height="1"/>
<rect x="1607" y="334" width="3" height="1"/>
<rect x="1607" y="367" width="3" height="1"/>
<rect x="1607" y="400" width="3" height="1"/>
<rect x="1607" y="433" width="3" height="1"/>
<rect x="1607" y="466" width="3" height="1"/>
<rect x="1607" y="499" width="3" height="1"/>
<rect x="1607" y="532" width="3" height="1"/>
<rect x="1607" y="565" width="3" height="1"/>
<rect x="1607" y="202" width="2" height="1"/>
<rect x="1607" y="572" width="2" height="1"/>
</g>
<g font-family="Liberation Sans, sans-serif" font-size="10" fill="#000" stroke="#000" stroke-width="0.12">
<text x="1612.5" y="8" textLength="32.5" lengthAdjust="spacingAndGlyphs">1987.00</text>
<text x="1612.5" y="41" textLength="32.5" lengthAdjust="spacingAndGlyphs">1970.80</text>
<text x="1612.5" y="74" textLength="32.5" lengthAdjust="spacingAndGlyphs">1955.05</text>
<text x="1612.5" y="107" textLength="32.5" lengthAdjust="spacingAndGlyphs">1939.30</text>
<text x="1612.5" y="140" textLength="32.5" lengthAdjust="spacingAndGlyphs">1923.10</text>
<text x="1612.5" y="173" textLength="32.5" lengthAdjust="spacingAndGlyphs">1907.35</text>
<text x="1612.5" y="239" textLength="32.5" lengthAdjust="spacingAndGlyphs">1875.40</text>
<text x="1612.5" y="272" textLength="32.5" lengthAdjust="spacingAndGlyphs">1859.65</text>
<text x="1612.5" y="305" textLength="32.5" lengthAdjust="spacingAndGlyphs">1843.45</text>
<text x="1612.5" y="338" textLength="32.5" lengthAdjust="spacingAndGlyphs">1827.70</text>
<text x="1612.5" y="371" textLength="32.5" lengthAdjust="spacingAndGlyphs">1811.95</text>
<text x="1612.5" y="404" textLength="32.5" lengthAdjust="spacingAndGlyphs">1795.75</text>
<text x="1612.5" y="437" textLength="32.5" lengthAdjust="spacingAndGlyphs">1780.00</text>
<text x="1612.5" y="470" textLength="32.5" lengthAdjust="spacingAndGlyphs">1764.25</text>
<text x="1612.5" y="503" textLength="32.5" lengthAdjust="spacingAndGlyphs">1748.05</text>
<text x="1612.5" y="536" textLength="32.5" lengthAdjust="spacingAndGlyphs">1732.30</text>
<text x="1612.5" y="569" textLength="32.5" lengthAdjust="spacingAndGlyphs">1716.55</text>
</g>
<rect x="1608" y="198" width="41" height="11" fill="#000"/>
<text x="1612.5" y="207.2" font-family="Liberation Sans, sans-serif" font-size="10" fill="#fff" textLength="32.5" lengthAdjust="spacingAndGlyphs">1891.13</text>
<g font-family="Liberation Sans, sans-serif" font-size="10" fill="#000" stroke="#000" stroke-width="0.12">
<text x="1610.5" y="581.5" textLength="42" lengthAdjust="spacingAndGlyphs">166.93388</text>
<text x="1609.5" y="612" textLength="15" lengthAdjust="spacingAndGlyphs">100</text>
<text x="1609.5" y="667" textLength="18.5" lengthAdjust="spacingAndGlyphs">0.00</text>
<text x="1609.5" y="722" textLength="18" lengthAdjust="spacingAndGlyphs">-100</text>
<text x="1609.5" y="728.5" textLength="45" lengthAdjust="spacingAndGlyphs">-123.27279</text>
<text x="1609.5" y="733" font-size="8" textLength="5" lengthAdjust="spacingAndGlyphs">0</text>
</g>
<g fill="#000">
<rect x="3" y="732" width="1" height="3"/>
<rect x="67" y="732" width="1" height="3"/>
<rect x="131" y="732" width="1" height="3"/>
<rect x="195" y="732" width="1" height="3"/>
<rect x="259" y="732" width="1" height="3"/>
<rect x="323" y="732" width="1" height="3"/>
<rect x="387" y="732" width="1" height="3"/>
<rect x="451" y="732" width="1" height="3"/>
<rect x="515" y="732" width="1" height="3"/>
<rect x="579" y="732" width="1" height="3"/>
<rect x="643" y="732" width="1" height="3"/>
<rect x="707" y="732" width="1" height="3"/>
<rect x="771" y="732" width="1" height="3"/>
<rect x="835" y="732" width="1" height="3"/>
<rect x="899" y="732" width="1" height="3"/>
<rect x="963" y="732" width="1" height="3"/>
<rect x="1027" y="732" width="1" height="3"/>
<rect x="1091" y="732" width="1" height="3"/>
<rect x="1155" y="732" width="1" height="3"/>
<rect x="1219" y="732" width="1" height="3"/>
<rect x="1283" y="732" width="1" height="3"/>
</g>
<g font-family="Liberation Sans, sans-serif" font-size="10" fill="#000" stroke="#000" stroke-width="0.12">
<text x="2.5" y="744.3" textLength="51.3" lengthAdjust="spacingAndGlyphs">17 Aug 2021</text>
<text x="66.5" y="744.3" textLength="51.3" lengthAdjust="spacingAndGlyphs">26 Aug 2021</text>
<text x="130.5" y="744.3" textLength="46.7" lengthAdjust="spacingAndGlyphs">5 Sep 2021</text>
<text x="194.5" y="744.3" textLength="51.8" lengthAdjust="spacingAndGlyphs">14 Sep 2021</text>
<text x="258.5" y="744.3" textLength="51.8" lengthAdjust="spacingAndGlyphs">23 Sep 2021</text>
<text x="322.5" y="744.3" textLength="44.7" lengthAdjust="spacingAndGlyphs">3 Oct 2021</text>
<text x="386.5" y="744.3" textLength="49.7" lengthAdjust="spacingAndGlyphs">12 Oct 2021</text>
<text x="450.5" y="744.3" textLength="49.7" lengthAdjust="spacingAndGlyphs">21 Oct 2021</text>
<text x="514.5" y="744.3" textLength="49.7" lengthAdjust="spacingAndGlyphs">31 Oct 2021</text>
<text x="578.5" y="744.3" textLength="46.7" lengthAdjust="spacingAndGlyphs">9 Nov 2021</text>
<text x="642.5" y="744.3" textLength="51.8" lengthAdjust="spacingAndGlyphs">18 Nov 2021</text>
<text x="706.5" y="744.3" textLength="51.8" lengthAdjust="spacingAndGlyphs">28 Nov 2021</text>
<text x="770.5" y="744.3" textLength="46.7" lengthAdjust="spacingAndGlyphs">7 Dec 2021</text>
<text x="834.5" y="744.3" textLength="51.8" lengthAdjust="spacingAndGlyphs">16 Dec 2021</text>
<text x="898.5" y="744.3" textLength="51.8" lengthAdjust="spacingAndGlyphs">27 Dec 2021</text>
<text x="962.5" y="744.3" textLength="45.2" lengthAdjust="spacingAndGlyphs">5 Jan 2022</text>
<text x="1026.5" y="744.3" textLength="50.3" lengthAdjust="spacingAndGlyphs">14 Jan 2022</text>
<text x="1090.5" y="744.3" textLength="50.3" lengthAdjust="spacingAndGlyphs">24 Jan 2022</text>
<text x="1154.5" y="744.3" textLength="46.2" lengthAdjust="spacingAndGlyphs">2 Feb 2022</text>
<text x="1218.5" y="744.3" textLength="50.6" lengthAdjust="spacingAndGlyphs">11 Feb 2022</text>
<text x="1282.5" y="744.3" textLength="51.3" lengthAdjust="spacingAndGlyphs">21 Feb 2022</text>
</g>
<path d="M6,9 L13,9 L9.5,13 Z" fill="#000"/>
<text x="18" y="14" font-family="Liberation Sans, sans-serif" font-size="10" fill="#000" stroke="#000" stroke-width="0.12" textLength="51" lengthAdjust="spacingAndGlyphs">GOLD,Daily</text>
<text x="75.5" y="14" font-family="Liberation Sans, sans-serif" font-size="10" fill="#000" stroke="#000" stroke-width="0.12" textLength="140" lengthAdjust="spacingAndGlyphs">1906.43 1921.44 1884.99 1891.13</text>
<g font-family="Liberation Sans, sans-serif" font-size="10" fill="#000" stroke="#000" stroke-width="0.12">
<text x="7" y="583.2" textLength="169" lengthAdjust="spacingAndGlyphs">W1 CCI (5) 65.32925 65.32925 -1.00000</text>
<text x="182.3" y="583.2" textLength="241.7" lengthAdjust="spacingAndGlyphs">GOLD D1 PA Macd (3,6,4) 21.03 18.64 19.83 21.32 21.32</text>
<text x="430.6" y="583.2" textLength="251" lengthAdjust="spacingAndGlyphs">D1 Rsi Ma simple 91.0726 91.0726 88.8130 50.1000 50.0000</text>
</g>
<rect x="23.5" y="43.5" width="59" height="19" rx="1.5" fill="#696969" stroke="#000" stroke-width="1"/>
<text x="38.3" y="58.2" font-family="Liberation Sans, sans-serif" font-size="13.5" fill="#ff0000" textLength="27.5" lengthAdjust="spacingAndGlyphs">Pivot</text>
<rect x="88" y="24" width="16" height="16" rx="2" fill="#3c3c3c"/>
<text x="91.8" y="36.2" font-family="Liberation Sans, sans-serif" font-size="9" fill="#b0b0b0" textLength="6.2" lengthAdjust="spacingAndGlyphs">V</text>
<rect x="1506.5" y="671.5" width="89" height="19" rx="1.5" fill="#696969" stroke="#000" stroke-width="1"/>
<text x="1533.5" y="686.2" font-family="Liberation Sans, sans-serif" font-size="13.5" fill="#00ff00" textLength="33.5" lengthAdjust="spacingAndGlyphs">MA hl</text>
<rect x="1506.5" y="691.5" width="59" height="19" rx="1.5" fill="#696969" stroke="#000" stroke-width="1"/>
<text x="1520.5" y="706.2" font-family="Liberation Sans, sans-serif" font-size="13.5" fill="#ff0000" textLength="29.5" lengthAdjust="spacingAndGlyphs">FIBO</text>
<rect x="1506.5" y="711.5" width="59" height="18.5" fill="#696969" stroke="#888" stroke-width="1"/>
<text x="1511.5" y="725" font-family="Liberation Sans, sans-serif" font-size="10" fill="#ff0000" textLength="47" lengthAdjust="spacingAndGlyphs">MACD off</text>
<line x1="1507" y1="730.5" x2="1566" y2="730.5" stroke="#d0d0d0" stroke-width="1" stroke-dasharray="3,3" shape-rendering="crispEdges"/>
<rect x="2" y="731" width="1605" height="1" fill="#000"/>
<text x="1564.7" y="35.5" font-family="Liberation Sans, sans-serif" font-size="10" fill="#778899" textLength="16.3" lengthAdjust="spacingAndGlyphs">M15</text>
<g stroke="#4169e1" stroke-width="2" fill="none"><line x1="1591" y1="37" x2="1591" y2="29"/><polyline points="1587.5,32.5 1591,29 1594.5,32.5"/></g>
<text x="1570.0" y="49.5" font-family="Liberation Sans, sans-serif" font-size="10" fill="#778899" textLength="11" lengthAdjust="spacingAndGlyphs">H1</text>
<g stroke="#ff0000" stroke-width="2" fill="none"><line x1="1591" y1="41" x2="1591" y2="49"/><polyline points="1587.5,45.5 1591,49 1594.5,45.5"/></g>
<text x="1570.0" y="63.5" font-family="Liberation Sans, sans-serif" font-size="10" fill="#778899" textLength="11" lengthAdjust="spacingAndGlyphs">H4</text>
<g stroke="#ff0000" stroke-width="2" fill="none"><line x1="1591" y1="55" x2="1591" y2="63"/><polyline points="1587.5,59.5 1591,63 1594.5,59.5"/></g>
<text x="1570.0" y="77.5" font-family="Liberation Sans, sans-serif" font-size="10" fill="#778899" textLength="11" lengthAdjust="spacingAndGlyphs">D1</text>
<g stroke="#ff0000" stroke-width="2" fill="none"><line x1="1591" y1="69" x2="1591" y2="77"/><polyline points="1587.5,73.5 1591,77 1594.5,73.5"/></g>
<text x="1567.7" y="91.5" font-family="Liberation Sans, sans-serif" font-size="10" fill="#778899" textLength="13.3" lengthAdjust="spacingAndGlyphs">W1</text>
<g stroke="#4169e1" stroke-width="2" fill="none"><line x1="1591" y1="93" x2="1591" y2="85"/><polyline points="1587.5,88.5 1591,85 1594.5,88.5"/></g>
</svg>
</body></html>
